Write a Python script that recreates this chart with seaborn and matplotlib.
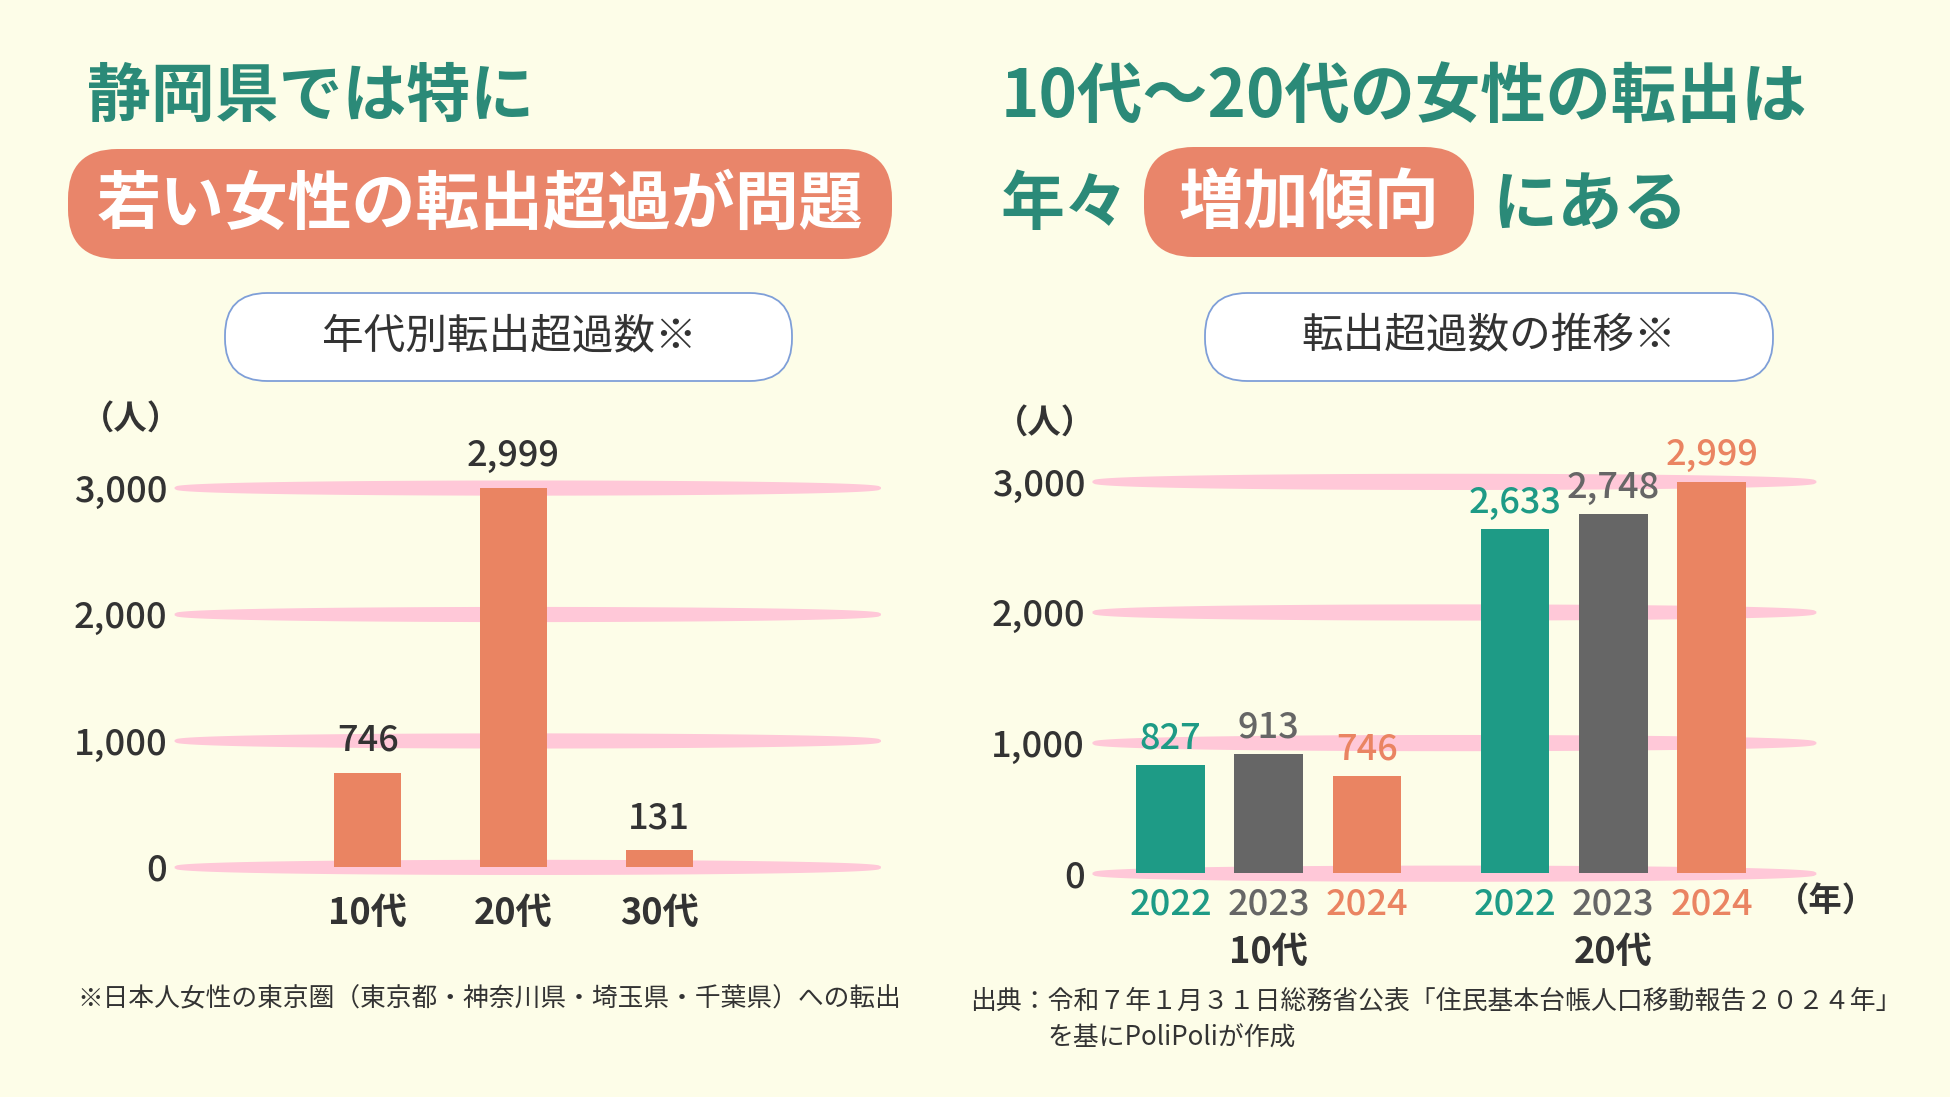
import numpy as np
import pandas as pd
import seaborn as sns
import matplotlib.pyplot as plt
from matplotlib.patches import FancyBboxPatch

# --- data ---
ages_left = ['10代', '20代', '30代']
values_left = [746, 2999, 131]

ages_right = ['10代', '20代']
years = ['2022', '2023', '2024']
values_10s = [827, 913, 746]
values_20s = [2633, 2748, 2999]

yticks = [0, 1000, 2000, 3000]
ytick_labels = ['0', '1,000', '2,000', '3,000']

# --- colours ---
BG = '#FDFDE8'
TEAL_TEXT = '#2B8A78'
PILL = '#E9856A'
PINK = '#FFC8D8'
DARK = '#333333'
year_colors = ['#1E9B86', '#666666', '#EA8462']

sns.set_style('white')
plt.rcParams['font.family'] = ['Noto Sans CJK JP', 'DejaVu Sans']

fig = plt.figure(figsize=(19.5, 10.97), dpi=100)
fig.patch.set_facecolor(BG)

# overlay in pixel units for headings and pills
bg = fig.add_axes([0, 0, 1, 1], zorder=0)
bg.set_xlim(0, 1950)
bg.set_ylim(1097, 0)
bg.axis('off')
bg.patch.set_alpha(0)


def pill(x0, y0, x1, y1, fc, ec='none', lw=0, r=0.45):
    h = y1 - y0
    bg.add_patch(FancyBboxPatch((x0, y0), x1 - x0, h,
                                boxstyle=f'round,pad=0,rounding_size={h * r}',
                                fc=fc, ec=ec, lw=lw))


# headings
bg.text(87, 97, '静岡県では特に', fontsize=46, fontweight='bold', color=TEAL_TEXT,
        ha='left', va='center')
pill(68, 149, 892, 259, PILL)
bg.text(480, 205, '若い女性の転出超過が問題', fontsize=46, fontweight='bold', color='white',
        ha='center', va='center')

bg.text(1001, 97, '10代～20代の女性の転出は', fontsize=47, fontweight='bold', color=TEAL_TEXT,
        ha='left', va='center')
bg.text(1001, 205, '年々', fontsize=46, fontweight='bold', color=TEAL_TEXT,
        ha='left', va='center')
pill(1144, 147, 1474, 257, PILL)
bg.text(1309, 203, '増加傾向', fontsize=47, fontweight='bold', color='white',
        ha='center', va='center')
bg.text(1492, 205, 'にある', fontsize=47, fontweight='bold', color=TEAL_TEXT,
        ha='left', va='center')

# subtitle pills
pill(225, 293, 792, 381, 'white', ec='#7F9FD8', lw=1.3, r=0.48)
bg.text(509, 337, '年代別転出超過数※', fontsize=30, color=DARK, ha='center', va='center')
pill(1205, 293, 1773, 381, 'white', ec='#7F9FD8', lw=1.3, r=0.48)
bg.text(1489, 337, '転出超過数の推移※', fontsize=30, color=DARK, ha='center', va='center')

# unit labels
bg.text(81, 419, '（人）', fontsize=24, fontweight='bold', color=DARK, ha='left', va='center')
bg.text(995, 423, '（人）', fontsize=24, fontweight='bold', color=DARK, ha='left', va='center')

# footnotes
bg.text(77, 999, '※日本人女性の東京圏（東京都・神奈川県・埼玉県・千葉県）への転出',
        fontsize=18.5, color=DARK, ha='left', va='center')
bg.text(970, 1001, '出典：令和７年１月３１日総務省公表「住民基本台帳人口移動報告２０２４年」',
        fontsize=18.6, color=DARK, ha='left', va='center')
bg.text(1048, 1038, 'を基にPoliPoliが作成', fontsize=18.6, color=DARK, ha='left', va='center')


def lens_grid(ax, ys, half):
    x0, x1 = ax.get_xlim()
    xs = np.linspace(x0, x1, 300)
    t = (xs - x0) / (x1 - x0)
    prof = 0.12 + 0.88 * np.clip(1 - (2 * t - 1) ** 2, 0, None) ** 0.4
    for y in ys:
        ax.fill_between(xs, y - half * prof, y + half * prof, color=PINK, lw=0,
                        zorder=0.5, clip_on=False)


def style_axes(ax):
    ax.patch.set_alpha(0)
    for s in ax.spines.values():
        s.set_visible(False)
    ax.set_xlabel('')
    ax.set_ylabel('')
    ax.set_yticks(yticks, ytick_labels)
    ax.tick_params(axis='y', length=0, pad=5, labelsize=26, labelcolor=DARK)
    for lbl in ax.get_yticklabels():
        lbl.set_fontweight('medium')


# --- left chart ---
df_left = pd.DataFrame({'age': ages_left, 'value': values_left})
ax1 = fig.add_axes([0.0893, 0.1995, 0.3622, 0.398], zorder=1)
sns.barplot(data=df_left, x='age', y='value', color=year_colors[2], saturation=1,
            width=0.46, linewidth=0, ax=ax1, zorder=2)
ax1.set_xlim(-1.33, 3.52)
ax1.set_ylim(-89, 3364)
style_axes(ax1)
ax1.tick_params(axis='x', length=0, pad=12, labelsize=26, labelcolor=DARK)
for lbl in ax1.get_xticklabels():
    lbl.set_fontweight('bold')
for c in ax1.containers:
    ax1.bar_label(c, fmt='{:,.0f}', padding=10, fontsize=26, color=DARK, fontweight='medium')
lens_grid(ax1, yticks, 60)

# --- right chart ---
df_right = pd.DataFrame({
    'age': [a for a in ages_right for _ in years],
    'year': years * len(ages_right),
    'value': values_10s + values_20s,
})
ax2 = fig.add_axes([0.560, 0.1995, 0.3712, 0.398], zorder=1)
sns.barplot(data=df_right, x='age', y='value', hue='year', palette=year_colors,
            saturation=1, width=0.856, gap=0.3, linewidth=0, legend=False, ax=ax2, zorder=2)
ax2.set_xlim(-0.513, 1.588)
ax2.set_ylim(-38, 3305)
style_axes(ax2)

centers, labels, colors = [], [], []
for yr, col, cont in zip(years, year_colors, ax2.containers):
    ax2.bar_label(cont, fmt='{:,.0f}', padding=6, fontsize=26, color=col, fontweight='medium')
    for bar in cont:
        centers.append(bar.get_x() + bar.get_width() / 2)
        labels.append(yr)
        colors.append(col)
ax2.set_xticks(centers, labels)
ax2.tick_params(axis='x', length=0, pad=6, labelsize=26)
for lbl, col in zip(ax2.get_xticklabels(), colors):
    lbl.set_color(col)
    lbl.set_fontweight('medium')

xt = ax2.get_xaxis_transform()
for i, a in enumerate(ages_right):
    ax2.text(i, -0.17, a, transform=xt, fontsize=26, fontweight='bold', color=DARK,
             ha='center', va='center')
ax2.text(1.617, -0.054, '（年）', transform=xt, fontsize=24, fontweight='bold', color=DARK,
         ha='center', va='center')
lens_grid(ax2, yticks, 62)

fig.savefig('out.png', dpi=100, facecolor=BG)
